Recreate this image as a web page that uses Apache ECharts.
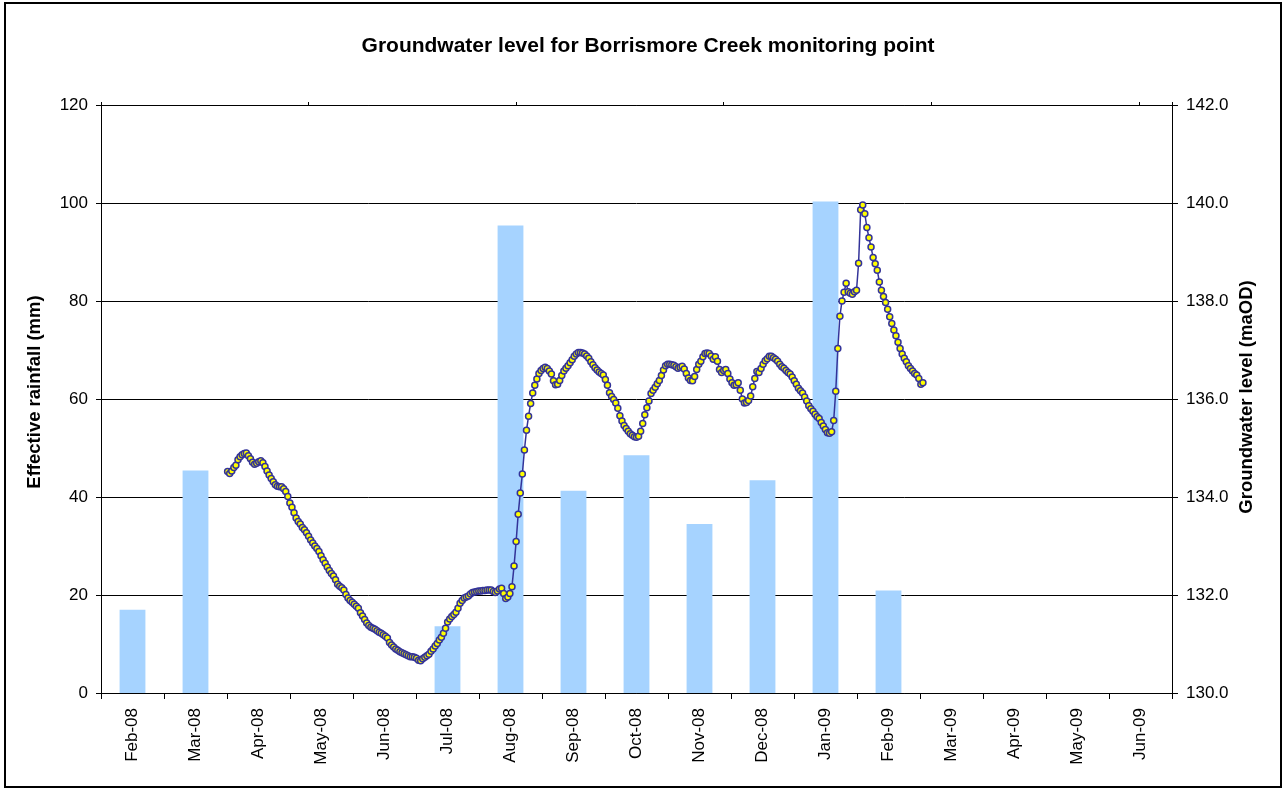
<!DOCTYPE html>
<html>
<head>
<meta charset="utf-8">
<title>Groundwater level for Borrismore Creek monitoring point</title>
<script src="https://cdn.jsdelivr.net/npm/echarts@6/dist/echarts.min.js"></script>
<style>
  html, body { margin: 0; padding: 0; background: #ffffff; }
  #chart { width: 1283px; height: 788px; }
</style>
</head>
<body>
<div id="chart"></div>
<script>
// Monthly effective rainfall (mm), left axis
const months = ['Feb-08', 'Mar-08', 'Apr-08', 'May-08', 'Jun-08', 'Jul-08', 'Aug-08', 'Sep-08',
  'Oct-08', 'Nov-08', 'Dec-08', 'Jan-09', 'Feb-09', 'Mar-09', 'Apr-09', 'May-09', 'Jun-09'];
const rainfall = [17.0, 45.4, 0, 0, 0, 13.6, 95.4, 41.3, 48.5, 34.5, 43.4, 100.3, 20.9, 0, 0, 0, 0];

// Daily groundwater level (maOD), right axis.
// Days are counted from 1 Feb 2008; the record starts on day 61 (2 Apr 2008).
const levelFirstDay = 61;
const levelDaysSpan = 516; // 1 Feb 2008 .. 1 Jul 2009
const groundwaterLevel = [
  134.52, 134.48, 134.53, 134.60, 134.65, 134.76, 134.82, 134.86, 134.89, 134.90, // day 61
  134.84, 134.78, 134.71, 134.67, 134.69, 134.72, 134.74, 134.70, 134.62, 134.53, // day 71
  134.45, 134.38, 134.31, 134.25, 134.22, 134.21, 134.21, 134.17, 134.11, 134.01, // day 81
  133.88, 133.79, 133.68, 133.57, 133.50, 133.45, 133.38, 133.33, 133.27, 133.20, // day 91
  133.12, 133.06, 133.00, 132.95, 132.89, 132.80, 132.72, 132.65, 132.57, 132.50, // day 101
  132.44, 132.39, 132.31, 132.22, 132.18, 132.15, 132.10, 132.01, 131.94, 131.89, // day 111
  131.85, 131.81, 131.77, 131.73, 131.64, 131.57, 131.50, 131.43, 131.38, 131.34, // day 121
  131.32, 131.30, 131.27, 131.24, 131.22, 131.19, 131.16, 131.12, 131.03, 130.98, // day 131
  130.94, 130.90, 130.87, 130.84, 130.82, 130.80, 130.78, 130.76, 130.74, 130.74, // day 141
  130.73, 130.71, 130.67, 130.66, 130.70, 130.73, 130.76, 130.79, 130.85, 130.90, // day 151
  130.96, 131.01, 131.08, 131.14, 131.22, 131.32, 131.45, 131.51, 131.56, 131.60, // day 161
  131.65, 131.73, 131.83, 131.89, 131.94, 131.96, 131.98, 132.02, 132.05, 132.06, // day 171
  132.07, 132.08, 132.08, 132.09, 132.09, 132.10, 132.10, 132.10, 132.07, 132.05, // day 181
  132.08, 132.12, 132.14, 132.03, 131.93, 131.96, 132.03, 132.17, 132.59, 133.09, // day 191
  133.65, 134.08, 134.47, 134.96, 135.36, 135.65, 135.91, 136.12, 136.28, 136.41, // day 201
  136.52, 136.58, 136.62, 136.65, 136.62, 136.57, 136.51, 136.37, 136.29, 136.30, // day 211
  136.38, 136.48, 136.57, 136.63, 136.68, 136.74, 136.80, 136.87, 136.92, 136.95, // day 221
  136.95, 136.94, 136.92, 136.88, 136.83, 136.76, 136.70, 136.64, 136.59, 136.55, // day 231
  136.52, 136.49, 136.40, 136.28, 136.13, 136.05, 135.99, 135.92, 135.81, 135.66, // day 241
  135.55, 135.46, 135.40, 135.34, 135.29, 135.26, 135.23, 135.22, 135.24, 135.34, // day 251
  135.50, 135.68, 135.82, 135.96, 136.11, 136.18, 136.24, 136.31, 136.38, 136.48, // day 261
  136.59, 136.68, 136.71, 136.71, 136.70, 136.69, 136.66, 136.63, 136.65, 136.67, // day 271
  136.61, 136.52, 136.43, 136.38, 136.37, 136.46, 136.60, 136.71, 136.77, 136.86, // day 281
  136.93, 136.94, 136.93, 136.88, 136.81, 136.86, 136.77, 136.60, 136.54, 136.58, // day 291
  136.60, 136.52, 136.41, 136.33, 136.28, 136.29, 136.33, 136.18, 136.00, 135.92, // day 301
  135.93, 135.97, 136.06, 136.25, 136.42, 136.56, 136.54, 136.62, 136.71, 136.78, // day 311
  136.82, 136.87, 136.87, 136.84, 136.81, 136.77, 136.71, 136.66, 136.63, 136.58, // day 321
  136.54, 136.51, 136.45, 136.37, 136.30, 136.22, 136.17, 136.12, 136.04, 135.96, // day 331
  135.86, 135.80, 135.75, 135.69, 135.64, 135.60, 135.52, 135.45, 135.38, 135.31, // day 341
  135.30, 135.33, 135.56, 136.16, 137.03, 137.69, 138.00, 138.18, 138.36, 138.19, // day 351
  138.16, 138.14, 138.19, 138.22, 138.77, 139.86, 139.96, 139.78, 139.50, 139.29, // day 361
  139.10, 138.89, 138.76, 138.63, 138.39, 138.22, 138.09, 137.97, 137.83, 137.68, // day 371
  137.54, 137.41, 137.29, 137.16, 137.03, 136.92, 136.83, 136.76, 136.68, 136.62, // day 381
  136.57, 136.52, 136.49, 136.42, 136.30, 136.33                                  // day 391
];

const titleText = 'Groundwater level for Borrismore Creek monitoring point';
const leftAxisTitle = 'Effective rainfall (mm)';
const rightAxisTitle = 'Groundwater level (maOD)';

const FONT = '"Liberation Sans", Arial, Helvetica, sans-serif';
const levelPoints = groundwaterLevel.map((v, i) => [levelFirstDay + i, v]);

const chart = echarts.init(document.getElementById('chart'), null, { renderer: 'canvas' });

const GRID = { left: 101, right: 111, top: 105, bottom: 95 };

chart.setOption({
  animation: false,
  backgroundColor: '#ffffff',
  textStyle: { fontFamily: FONT, color: '#000' },
  title: {
    text: titleText,
    left: 643,
    top: 31,
    textAlign: 'center',
    textStyle: { fontFamily: FONT, fontSize: 21, fontWeight: 'bold', color: '#000' }
  },
  grid: Object.assign({ containLabel: false }, GRID),
  xAxis: [
    {
      type: 'category',
      position: 'bottom',
      data: months,
      boundaryGap: true,
      axisLine: { show: true, lineStyle: { color: '#000', width: 1 } },
      axisTick: { show: true, length: 6, lineStyle: { color: '#000' }, interval: 0 },
      axisLabel: { rotate: 90, interval: 0, margin: 15, fontSize: 17, color: '#000', fontFamily: FONT },
      splitLine: { show: false }
    },
    {
      type: 'value',
      position: 'top',
      min: 0,
      max: levelDaysSpan,
      interval: 100,
      axisLine: { show: true, lineStyle: { color: '#000', width: 1 } },
      axisTick: { show: true, length: 3, lineStyle: { color: '#000' } },
      axisLabel: { show: false },
      splitLine: { show: false }
    }
  ],
  yAxis: [
    {
      type: 'value',
      position: 'left',
      min: 0,
      max: 120,
      interval: 20,
      axisLine: { show: true, lineStyle: { color: '#000', width: 1 } },
      axisTick: { show: true, length: 5, lineStyle: { color: '#000' } },
      axisLabel: { margin: 13, fontSize: 17, color: '#000', fontFamily: FONT },
      splitLine: { show: true, lineStyle: { color: '#000', width: 1 } }
    },
    {
      type: 'value',
      position: 'right',
      min: 130,
      max: 142,
      interval: 2,
      axisLine: { show: true, lineStyle: { color: '#000', width: 1 } },
      axisTick: { show: true, length: 6, lineStyle: { color: '#000' } },
      axisLabel: {
        margin: 14, fontSize: 17, color: '#000', fontFamily: FONT,
        formatter: v => v.toFixed(1)
      },
      splitLine: { show: false }
    }
  ],
  series: [
    {
      name: 'Effective rainfall',
      type: 'bar',
      xAxisIndex: 0,
      yAxisIndex: 0,
      data: rainfall,
      barWidth: '41%',
      itemStyle: { color: '#A6D3FF' },
      z: 2
    },
    {
      name: 'Groundwater level',
      type: 'line',
      xAxisIndex: 1,
      yAxisIndex: 1,
      data: levelPoints,
      showSymbol: true,
      symbol: 'circle',
      symbolSize: 6,
      lineStyle: { color: '#333399', width: 1.5 },
      itemStyle: { color: '#FFFF00', borderColor: '#333399', borderWidth: 1.5 },
      z: 5
    }
  ],
  graphic: [
    {
      type: 'rect',
      shape: { x: 5, y: 3, width: 1276, height: 784 },
      style: { fill: null, stroke: '#000', lineWidth: 2 },
      silent: true,
      z: 100
    },
    {
      type: 'text',
      x: 35,
      y: 392,
      rotation: Math.PI / 2,
      style: {
        text: leftAxisTitle,
        font: 'bold 18.5px ' + FONT,
        fill: '#000',
        align: 'center',
        verticalAlign: 'middle'
      }
    },
    {
      type: 'text',
      x: 1247,
      y: 397,
      rotation: Math.PI / 2,
      style: {
        text: rightAxisTitle,
        font: 'bold 18.5px ' + FONT,
        fill: '#000',
        align: 'center',
        verticalAlign: 'middle'
      }
    }
  ]
});
</script>
</body>
</html>
